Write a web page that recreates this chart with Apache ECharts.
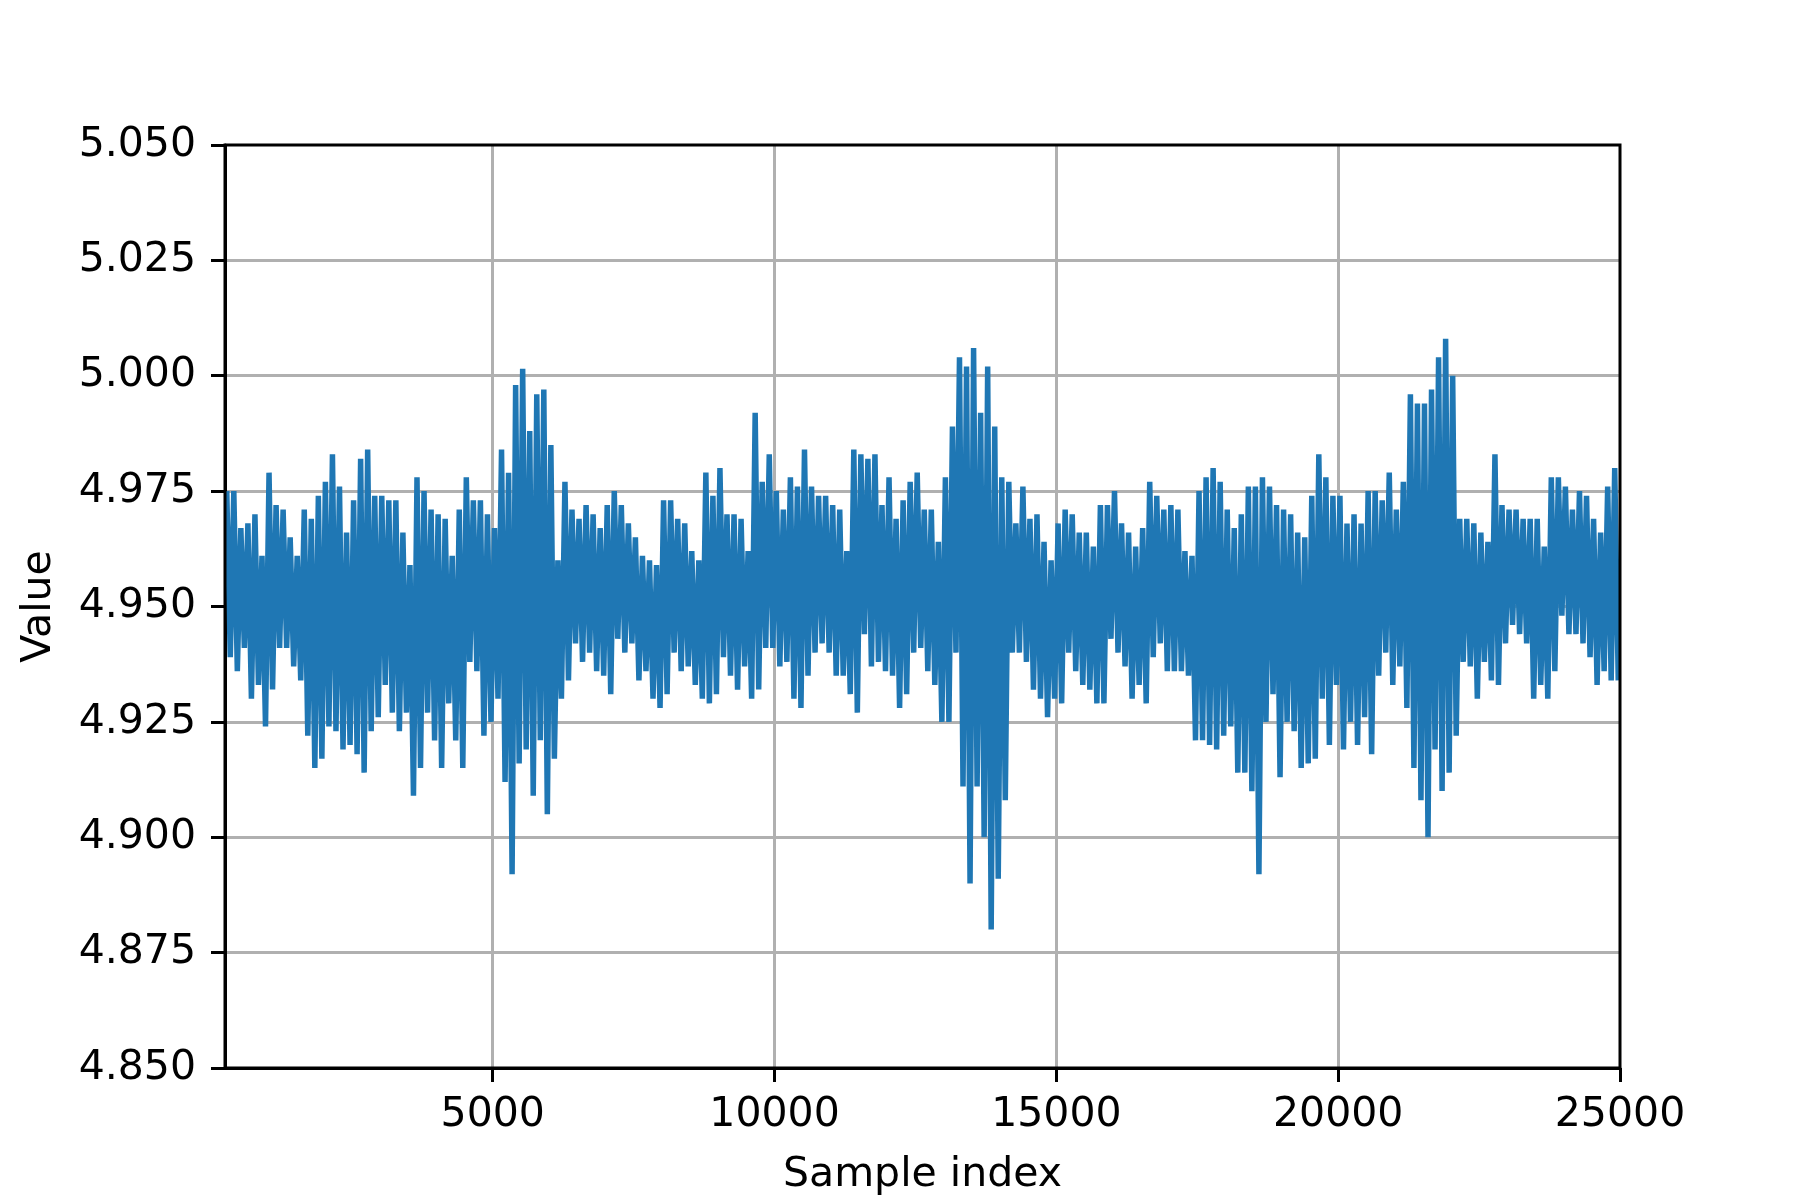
<!DOCTYPE html>
<html>
<head>
<meta charset="utf-8">
<script src="https://cdn.jsdelivr.net/npm/echarts@6/dist/echarts.min.js"></script>
<style>
  html, body { margin: 0; padding: 0; background: #fff; }
  #chart { width: 1800px; height: 1200px; }
</style>
</head>
<body>
<div id="chart"></div>
<script>
// signal (bins of 125 samples from index 250)
const binStart = 250
const binSize = 125

const binHigh = [
  4.975, 4.975, 4.967, 4.968, 4.970, 4.961, 4.979, 4.972, 4.971, 4.965,
  4.961, 4.971, 4.969, 4.974, 4.977, 4.983, 4.976, 4.966, 4.973, 4.982,
  4.984, 4.974, 4.974, 4.973, 4.973, 4.966, 4.959, 4.978, 4.975, 4.971,
  4.970, 4.969, 4.961, 4.971, 4.978, 4.973, 4.973, 4.970, 4.967, 4.984,
  4.979, 4.998, 5.0015, 4.988, 4.996, 4.997, 4.985, 4.960, 4.977, 4.971,
  4.969, 4.972, 4.970, 4.967, 4.972, 4.975, 4.972, 4.968, 4.965, 4.961,
  4.960, 4.959, 4.973, 4.973, 4.969, 4.968, 4.962, 4.960, 4.979, 4.974,
  4.980, 4.970, 4.970, 4.969, 4.962, 4.992, 4.977, 4.983, 4.975, 4.971,
  4.978, 4.976, 4.984, 4.976, 4.974, 4.974, 4.972, 4.971, 4.962, 4.984,
  4.983, 4.982, 4.983, 4.972, 4.978, 4.969, 4.973, 4.977, 4.979, 4.971,
  4.971, 4.964, 4.978, 4.989, 5.004, 5.002, 5.006, 4.992, 5.002, 4.989,
  4.978, 4.977, 4.968, 4.976, 4.969, 4.970, 4.964, 4.960, 4.968, 4.971,
  4.970, 4.966, 4.966, 4.963, 4.972, 4.972, 4.975, 4.968, 4.966, 4.963,
  4.967, 4.977, 4.974, 4.971, 4.972, 4.971, 4.962, 4.961, 4.975, 4.978,
  4.980, 4.977, 4.971, 4.967, 4.970, 4.976, 4.976, 4.978, 4.976, 4.972,
  4.971, 4.970, 4.966, 4.965, 4.974, 4.983, 4.978, 4.974, 4.974, 4.968,
  4.970, 4.968, 4.975, 4.975, 4.973, 4.979, 4.971, 4.977, 4.996, 4.994,
  4.994, 4.997, 5.004, 5.008, 5.000, 4.969, 4.969, 4.968, 4.966, 4.964,
  4.983, 4.972, 4.971, 4.971, 4.969, 4.969, 4.969, 4.963, 4.978, 4.978,
  4.976, 4.971, 4.975, 4.974, 4.969, 4.966, 4.976, 4.980
]

const binLow = [
  4.939, 4.936, 4.941, 4.930, 4.933, 4.924, 4.932, 4.941, 4.941, 4.937,
  4.934, 4.922, 4.915, 4.917, 4.924, 4.923, 4.919, 4.920, 4.918, 4.914,
  4.923, 4.926, 4.933, 4.927, 4.923, 4.927, 4.909, 4.915, 4.927, 4.921,
  4.915, 4.929, 4.921, 4.915, 4.938, 4.936, 4.922, 4.925, 4.930, 4.912,
  4.892, 4.916, 4.919, 4.909, 4.921, 4.905, 4.917, 4.930, 4.934, 4.942,
  4.938, 4.940, 4.936, 4.935, 4.931, 4.943, 4.940, 4.942, 4.934, 4.936,
  4.930, 4.928, 4.931, 4.940, 4.936, 4.937, 4.933, 4.930, 4.929, 4.931,
  4.939, 4.935, 4.932, 4.937, 4.930, 4.932, 4.941, 4.941, 4.937, 4.938,
  4.930, 4.928, 4.935, 4.940, 4.942, 4.940, 4.935, 4.935, 4.931, 4.927,
  4.944, 4.937, 4.938, 4.936, 4.935, 4.928, 4.931, 4.940, 4.941, 4.936,
  4.933, 4.925, 4.925, 4.940, 4.911, 4.890, 4.911, 4.900, 4.880, 4.891,
  4.908, 4.940, 4.940, 4.938, 4.932, 4.930, 4.926, 4.930, 4.929, 4.940,
  4.936, 4.933, 4.932, 4.929, 4.929, 4.943, 4.940, 4.937, 4.930, 4.933,
  4.929, 4.939, 4.942, 4.936, 4.936, 4.936, 4.935, 4.921, 4.921, 4.920,
  4.919, 4.922, 4.924, 4.914, 4.914, 4.910, 4.892, 4.925, 4.931, 4.913,
  4.925, 4.923, 4.915, 4.916, 4.917, 4.930, 4.920, 4.933, 4.919, 4.925,
  4.920, 4.926, 4.918, 4.935, 4.940, 4.933, 4.937, 4.928, 4.915, 4.908,
  4.900, 4.919, 4.910, 4.914, 4.922, 4.938, 4.937, 4.930, 4.938, 4.934,
  4.933, 4.942, 4.946, 4.944, 4.942, 4.930, 4.933, 4.930, 4.936, 4.948,
  4.944, 4.944, 4.942, 4.939, 4.933, 4.936, 4.934, 4.934
]

const xTicks = [5000, 10000, 15000, 20000, 25000]

// each bin drawn as a high then a low point so the line zigzags like the raw trace
const lineData = []
binHigh.forEach((h, i) => {
  const s = binStart + i * binSize
  lineData.push([s + binSize * 0.25, h])
  lineData.push([s + binSize * 0.75, binLow[i]])
})

const font = 'DejaVu Sans'
const myChart = echarts.init(document.getElementById('chart'))

const option = {
  backgroundColor: '#fff',
  animation: false,
  grid: {
    left: 225, top: 145, right: 180, bottom: 132,
    containLabel: false,
    outerBoundsMode: 'none',
    show: true,
    borderColor: '#000',
    borderWidth: 3,
    z: 5
  },
  xAxis: {
    type: 'value',
    min: binStart,
    max: 25000,
    name: 'Sample index',
    nameLocation: 'middle',
    nameGap: 87,
    nameTextStyle: { fontFamily: font, fontSize: 41, color: '#000' },
    axisLine: { show: true, lineStyle: { color: '#000', width: 3 } },
    axisTick: { show: true, length: 14, lineStyle: { color: '#000', width: 3 }, customValues: xTicks },
    axisLabel: {
      fontFamily: font, fontSize: 41, color: '#000', margin: 27,
      customValues: xTicks,
      formatter: v => String(v)
    },
    splitLine: { show: true, showMinLine: true, showMaxLine: false, lineStyle: { color: '#b0b0b0', width: 3 } }
  },
  yAxis: {
    type: 'value',
    min: 4.85,
    max: 5.05,
    interval: 0.025,
    name: 'Value',
    nameLocation: 'middle',
    nameGap: 165,
    nameTextStyle: { fontFamily: font, fontSize: 41, color: '#000' },
    axisLine: { show: true, lineStyle: { color: '#000', width: 3 } },
    axisTick: { show: true, length: 14, lineStyle: { color: '#000', width: 3 } },
    axisLabel: {
      fontFamily: font, fontSize: 41, color: '#000', margin: 29,
      formatter: v => v.toFixed(3)
    },
    splitLine: { show: true, showMinLine: false, showMaxLine: false, lineStyle: { color: '#b0b0b0', width: 3 } }
  },
  series: [
    {
      type: 'line',
      data: lineData,
      showSymbol: false,
      symbol: 'none',
      lineStyle: { color: '#1f77b4', width: 5.5 },
      clip: true
    }
  ]
}

myChart.setOption(option)
</script>
</body>
</html>
